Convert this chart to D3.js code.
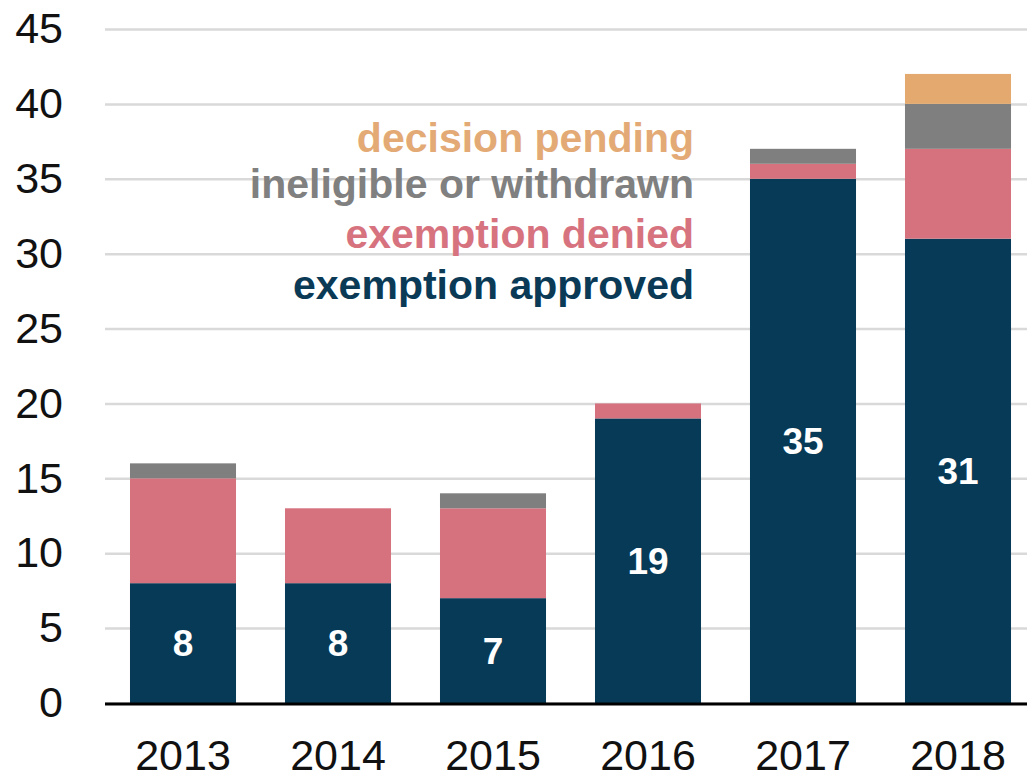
<!DOCTYPE html>
<html>
<head>
<meta charset="utf-8">
<script src="https://cdn.jsdelivr.net/npm/d3@7"></script>
<style>
  body { margin: 0; background: #fff; }
  svg { display: block; font-family: "Liberation Sans", Arial, sans-serif; }
</style>
</head>
<body>
<div id="chart"></div>
<script>
// data
const years = ["2013", "2014", "2015", "2016", "2017", "2018"];
const approved = [8, 8, 7, 19, 35, 31];
const denied = [7, 5, 6, 1, 1, 6];
const ineligible = [1, 0, 1, 0, 1, 3];
const pending = [0, 0, 0, 0, 0, 2];
const yTicks = [0, 5, 10, 15, 20, 25, 30, 35, 40, 45];

const seriesKeys = ["approved", "denied", "ineligible", "pending"];
const seriesLabels = {
    pending: "decision pending",
    ineligible: "ineligible or withdrawn",
    denied: "exemption denied",
    approved: "exemption approved"
};
const colors = {
    approved: "#073a57",
    denied: "#d5727e",
    ineligible: "#7f7f7f",
    pending: "#e4a96f"
};
const textColors = {
    approved: "#0b3a56",
    denied: "#d7737f",
    ineligible: "#808080",
    pending: "#e3aa76"
};

const W = 1027, H = 776;
const margin = { top: 29, right: 0, bottom: 73, left: 105 };

const table = years.map((y, i) => ({
    year: y,
    approved: approved[i],
    denied: denied[i],
    ineligible: ineligible[i],
    pending: pending[i]
}));

const svg = d3.select("#chart")
    .append("svg")
    .attr("width", W)
    .attr("height", H);

const x = d3.scaleBand()
    .domain(years)
    .range([margin.left + 0.5, margin.left + 930.5])
    .paddingInner(0.316)
    .paddingOuter(0.158);

const y = d3.scaleLinear()
    .domain([0, 45])
    .range([H - margin.bottom, margin.top]);

// gridlines + y labels
const yAxis = svg.append("g")
    .attr("transform", `translate(${margin.left},0)`)
    .call(d3.axisLeft(y)
        .tickValues(yTicks)
        .tickSize(-(W - margin.left))
        .tickPadding(42));
yAxis.select(".domain").remove();
yAxis.selectAll(".tick line")
    .attr("stroke", "#d9d9d9")
    .attr("stroke-width", 2.5);
yAxis.selectAll(".tick text")
    .attr("font-size", 43)
    .attr("font-family", "Liberation Sans, Arial, sans-serif")
    .attr("fill", "#111");

// stacked bars
const stacked = d3.stack().keys(seriesKeys)(table);

svg.append("g")
    .selectAll("g")
    .data(stacked)
    .join("g")
    .attr("fill", d => colors[d.key])
    .selectAll("rect")
    .data(d => d.filter(s => s[1] > s[0]))
    .join("rect")
    .attr("x", d => x(d.data.year))
    .attr("width", x.bandwidth())
    .attr("y", d => y(d[1]))
    .attr("height", d => y(d[0]) - y(d[1]));

// value labels inside the approved segment
svg.append("g")
    .selectAll("text")
    .data(table)
    .join("text")
    .attr("x", d => x(d.year) + x.bandwidth() / 2)
    .attr("y", d => (y(0) + y(d.approved)) / 2)
    .attr("dy", "0.36em")
    .attr("text-anchor", "middle")
    .attr("font-size", 37)
    .attr("font-weight", "bold")
    .attr("fill", "#fff")
    .text(d => d.approved);

// baseline
svg.append("line")
    .attr("x1", margin.left)
    .attr("x2", W)
    .attr("y1", y(0) + 1)
    .attr("y2", y(0) + 1)
    .attr("stroke", "#000")
    .attr("stroke-width", 3);

// x labels
svg.append("g")
    .selectAll("text")
    .data(years)
    .join("text")
    .attr("x", d => x(d) + x.bandwidth() / 2)
    .attr("y", 770)
    .attr("text-anchor", "middle")
    .attr("font-size", 43)
    .attr("fill", "#111")
    .text(d => d);

// legend as coloured text
const legendOrder = ["pending", "ineligible", "denied", "approved"];
const legendY = [152, 198, 248, 299];
svg.append("g")
    .selectAll("text")
    .data(legendOrder)
    .join("text")
    .attr("x", 694)
    .attr("y", (d, i) => legendY[i])
    .attr("text-anchor", "end")
    .attr("font-size", 41)
    .attr("font-weight", "bold")
    .attr("fill", d => textColors[d])
    .text(d => seriesLabels[d]);
</script>
</body>
</html>
